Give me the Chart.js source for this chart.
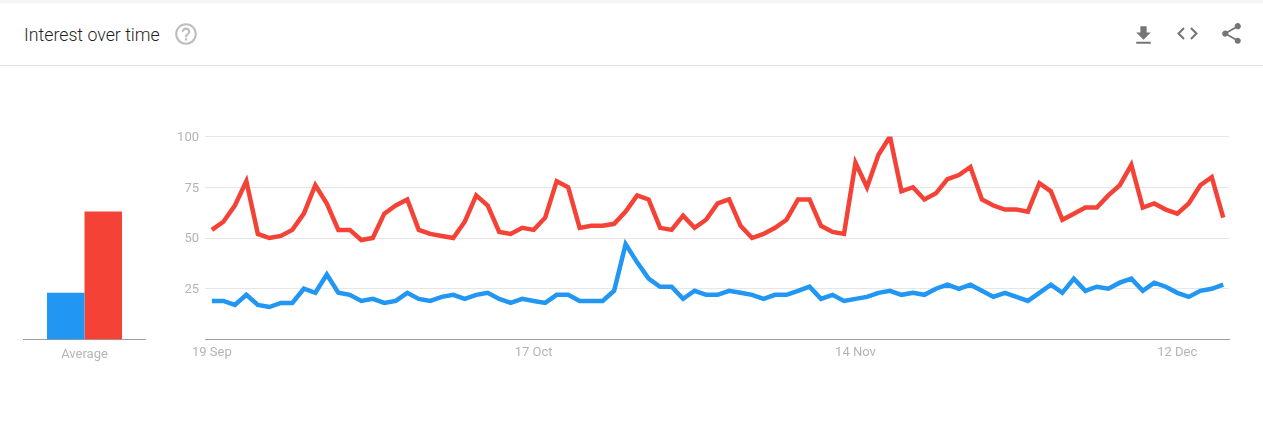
<!DOCTYPE html>
<html>
<head>
<meta charset="utf-8">
<title>Interest over time</title>
<script src="https://cdn.jsdelivr.net/npm/chart.js@4"></script>
<style>
  html, body { margin: 0; padding: 0; background: #fff; overflow: hidden; }
  body { width: 1263px; height: 435px; position: relative; font-family: Roboto, sans-serif; }
  #strip { position: absolute; left: 0; top: 0; width: 1263px; height: 3px; background: #f5f5f5; }
  #rule { position: absolute; left: 0; top: 65px; width: 1263px; height: 1px; background: #e0e0e0; }
  #title { position: absolute; left: 24px; top: 25px; font-size: 17.75px; line-height: 20px; font-weight: 300; color: #1f1f1f; }
  .icon { position: absolute; width: 25px; height: 25px; fill: #757575; }
  #main-wrap { position: absolute; left: 160px; top: 120px; width: 1090px; height: 250px; }
  #avg-wrap { position: absolute; left: 23px; top: 120px; width: 123px; height: 250px; }
</style>
</head>
<body>
<div id="strip"></div>
<div id="title">Interest over time</div>
<svg class="icon" style="left:173px;top:21px;width:26px;height:26px;fill:#bdbdbd" viewBox="0 0 24 24"><path d="M11 18h2v-2h-2v2zm1-16C6.48 2 2 6.48 2 12s4.48 10 10 10 10-4.48 10-10S17.52 2 12 2zm0 18c-4.41 0-8-3.59-8-8s3.59-8 8-8 8 3.59 8 8-3.59 8-8 8zm0-14c-2.21 0-4 1.79-4 4h2c0-1.1.9-2 2-2s2 .9 2 2c0 2-3 1.75-3 5h2c0-2.25 3-2.5 3-5 0-2.21-1.79-4-4-4z"/></svg>
<svg class="icon" style="left:1131px;top:23px" viewBox="0 0 24 24"><path d="M19 9h-4V3H9v6H5l7 7 7-7zM5 18v2h14v-2H5z"/></svg>
<svg class="icon" style="left:1175px;top:21px" viewBox="0 0 24 24"><path d="M9.4 16.6L4.8 12l4.6-4.6L8 6l-6 6 6 6 1.4-1.4zm5.2 0l4.6-4.6-4.6-4.6L16 6l6 6-6 6-1.4-1.4z"/></svg>
<svg class="icon" style="left:1219px;top:21px" viewBox="0 0 24 24"><path d="M18 16.08c-.76 0-1.44.3-1.96.77L8.91 12.7c.05-.23.09-.46.09-.7s-.04-.47-.09-.7l7.05-4.11c.54.5 1.25.81 2.04.81 1.66 0 3-1.34 3-3s-1.34-3-3-3-3 1.34-3 3c0 .24.04.47.09.7L8.04 9.81C7.5 9.31 6.79 9 6 9c-1.66 0-3 1.34-3 3s1.34 3 3 3c.79 0 1.5-.31 2.04-.81l7.12 4.16c-.05.21-.08.43-.08.65 0 1.61 1.31 2.92 2.92 2.92 1.61 0 2.92-1.31 2.92-2.92s-1.31-2.92-2.92-2.92z"/></svg>
<div id="rule"></div>
<div id="avg-wrap"><canvas id="avg"></canvas></div>
<div id="main-wrap"><canvas id="main"></canvas></div>
<script>
const blueValues = [19,19,17,22,17,16,18,18,25,23,32,23,22,19,20,18,19,23,20,19,21,22,20,22,23,20,18,20,19,18,22,22,19,19,19,24,47,38,30,26,26,20,24,22,22,24,23,22,20,22,22,24,26,20,22,19,20,21,23,24,22,23,22,25,27,25,27,24,21,23,21,19,23,27,23,30,24,26,25,28,30,24,28,26,23,21,24,25,27];
const redValues = [54,58,66,78,52,50,51,54,62,76,67,54,54,49,50,62,66,69,54,52,51,50,58,71,66,53,52,55,54,60,78,75,55,56,56,57,63,71,69,55,54,61,55,59,67,69,56,50,52,55,59,69,69,56,53,52,87,75,91,100,73,75,69,72,79,81,85,69,66,64,64,63,77,73,59,62,65,65,71,76,86,65,67,64,62,67,76,80,60];
const dateTicks = [0, 28, 56, 84];
const dateLabels = ['19 Sep', '17 Oct', '14 Nov', '12 Dec'];
const valueTicks = [0, 25, 50, 75, 100];
const averages = [23, 63];

const BLUE = '#2196f3';
const RED = '#f44336';
const GRID = '#e6e6e6';
const AXIS = '#9e9e9e';
const LABEL = '#b4b4b4';

Chart.defaults.animation = false;
Chart.defaults.font.family = 'Roboto, sans-serif';
Chart.defaults.font.size = 13;
Chart.defaults.plugins.legend.display = false;
Chart.defaults.plugins.tooltip.enabled = false;

function toPoints(values) {
  return values.map((v, i) => ({ x: i, y: v }));
}

function lineSet(values, color) {
  return { data: toPoints(values), borderColor: color, borderWidth: 4.5, pointRadius: 0, tension: 0 };
}

// main line chart
new Chart(document.getElementById('main'), {
  type: 'line',
  data: { datasets: [lineSet(blueValues, BLUE), lineSet(redValues, RED)] },
  options: {
    responsive: true,
    maintainAspectRatio: false,
    layout: { padding: { top: 16.5, right: 21, left: 0, bottom: 0 } },
    scales: {
      x: {
        type: 'linear',
        min: -0.6,
        max: 88.5,
        afterFit: axis => { axis.height = 30.5; },
        afterBuildTicks: axis => { axis.ticks = dateTicks.map(v => ({ value: v })); },
        grid: { display: false },
        border: { color: AXIS },
        ticks: {
          color: LABEL,
          padding: -3,
          maxRotation: 0,
          autoSkip: false,
          callback: v => dateLabels[dateTicks.indexOf(v)]
        }
      },
      y: {
        min: 0,
        max: 100,
        afterFit: axis => { axis.width = 45; },
        afterBuildTicks: axis => { axis.ticks = valueTicks.map(v => ({ value: v })); },
        grid: { color: GRID, drawTicks: false },
        border: { display: false },
        ticks: { color: LABEL, padding: 6, labelOffset: 1, callback: v => (v === 0 ? '' : v) }
      }
    }
  }
});

// average bars on the left
new Chart(document.getElementById('avg'), {
  type: 'bar',
  data: {
    labels: ['Average'],
    datasets: [
      { data: [averages[0]], backgroundColor: BLUE },
      { data: [averages[1]], backgroundColor: RED }
    ]
  },
  options: {
    responsive: true,
    maintainAspectRatio: false,
    layout: { padding: { top: 16.5 } },
    datasets: { bar: { categoryPercentage: 0.61, barPercentage: 1 } },
    scales: {
      x: {
        afterFit: axis => { axis.height = 30.5; },
        grid: { display: false },
        border: { color: AXIS },
        ticks: { color: LABEL, padding: -1 }
      },
      y: { display: false, min: 0, max: 100 }
    }
  }
});
</script>
</body>
</html>
